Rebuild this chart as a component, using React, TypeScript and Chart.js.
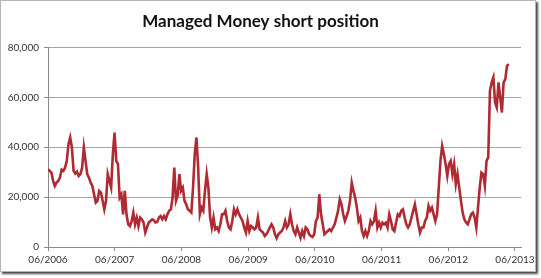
import React, { useEffect, useRef } from "react";
import { Chart, registerables } from "chart.js";

Chart.register(...registerables);

const title = "Managed Money short position";
const tickLabels = ["06/2006", "06/2007", "06/2008", "06/2009", "06/2010", "06/2011", "06/2012", "06/2013"];
const yTicks = [0, 20000, 40000, 60000, 80000];
// time span (years after 06/2006) covered by the sampled series
const seriesStartYears = 0;
const seriesEndYears = 6.906;
// Managed Money short position, thousands of contracts, sampled ~every 9-10 days
const shortThousands = [
  31.2, 30.5, 29.8, 26.5, 24.5, 25.8, 26.5, 27.8, 31, 30.5, 31.8, 34.5, 41.2, 43.9, 39.9, 30.5, 29.4, 30.2, 28.5, 29.2,
  31.8, 39.9, 34.5, 29.2, 27.8, 25.8, 24.5, 21.1, 17.8, 18.5, 22.5, 21.8, 18.5, 15.1, 18.5, 29.2, 26.5, 23.8, 37.2, 45.9,
  34.5, 33.2, 19.8, 21.1, 13.1, 22.5, 13.1, 9.1, 8.4, 10.4, 13.8, 9.1, 11.8, 8.4, 11.8, 11.1, 9.8, 5.8, 7.8, 9.8,
  10.4, 11.1, 10.7, 9.8, 10.0, 11.8, 12.4, 11.1, 12.4, 11.1, 13.1, 14.5, 15.1, 19.8, 31.8, 18.5, 20.5, 29.2, 22.5, 23.8,
  18.5, 17.1, 15.1, 14.5, 13.8, 23.8, 37.2, 43.9, 31.8, 13.1, 15.8, 14.5, 22.5, 29.2, 23.8, 11.8, 7.8, 11.8, 7.1, 7.8,
  6.4, 9.1, 13.1, 13.1, 14.5, 10.4, 7.8, 7.1, 10.4, 15.1, 13.1, 15.1, 13.1, 11.8, 10.4, 7.8, 5.8, 10.4, 6.4, 8.4,
  7.8, 7.1, 7.8, 11.8, 7.1, 6.4, 5.8, 4.4, 5.1, 6.4, 7.8, 9.1, 7.8, 5.1, 3.5, 5.1, 5.8, 6.4, 7.8, 10.4,
  7.8, 9.1, 13.1, 9.1, 6.4, 5.1, 7.8, 5.8, 3.7, 6.4, 4.4, 7.8, 7.1, 5.1, 4.4, 4.0, 5.1, 10.4, 11.8, 21.1,
  13.1, 9.1, 5.1, 5.8, 6.4, 7.1, 6.4, 7.8, 9.1, 11.8, 14.5, 19.1, 17.1, 13.1, 10.4, 12.4, 14.5, 18.5, 25.8, 22.5,
  19.8, 15.8, 10.4, 11.8, 6.4, 4.4, 6.4, 4.4, 6.4, 10.4, 9.1, 10.4, 14.5, 7.8, 9.8, 7.8, 9.8, 9.1, 9.8, 7.8,
  13.1, 10.4, 7.1, 6.4, 9.8, 13.1, 12.4, 14.5, 15.1, 11.8, 9.1, 7.8, 9.1, 11.8, 14.5, 17.1, 13.1, 9.1, 5.8, 7.8,
  7.8, 10.4, 11.8, 16.5, 14.5, 15.8, 13.1, 10.4, 13.1, 23.8, 34.5, 40.5, 37.2, 33.2, 28.5, 33.2, 34.5, 29.2, 33.2, 25.2,
  29.2, 23.8, 18.5, 13.8, 11.1, 9.8, 9.1, 11.1, 13.1, 13.8, 11.8, 7.8, 15.8, 23.8, 29.8, 29.2, 24.5, 34.5, 35.9, 62.6,
  66.0, 68.0, 57.9, 55.9, 66.0, 60.0, 53.9, 66.0, 67.3, 72.6, 73.3,
];

const tickFont = "10px Lato";
const tickColor = "#333";

// draws the x tick labels centred under each tick mark
const xLabelPlugin = {
  id: "xLabels",
  afterDraw(chart: any) {
    const xs = chart.scales.x;
    const ctx = chart.ctx;
    ctx.save();
    ctx.font = tickFont;
    ctx.fillStyle = tickColor;
    ctx.textAlign = "center";
    ctx.textBaseline = "middle";
    tickLabels.forEach((lbl, i) => {
      ctx.fillText(lbl, xs.getPixelForValue(i), xs.top + 4 + 3 + 6);
    });
    ctx.restore();
  },
};

export default function App() {
  const ref = useRef<HTMLCanvasElement | null>(null);

  useEffect(() => {
    document.body.style.margin = "0";
    const canvas = ref.current;
    if (!canvas) return;
    const n = shortThousands.length;
    const points = shortThousands.map((v, i) => ({
      x: seriesStartYears + ((seriesEndYears - seriesStartYears) * i) / (n - 1),
      y: v * 1000,
    }));
    const chart = new Chart(canvas, {
      type: "line",
      data: {
        datasets: [
          {
            label: title,
            data: points,
            borderColor: "#b02a33",
            borderWidth: 2.6,
            pointRadius: 0,
            tension: 0,
            fill: false,
          },
        ],
      },
      plugins: [xLabelPlugin],
      options: {
        animation: false,
        responsive: false,
        layout: { padding: { top: 9, right: 20, bottom: 9, left: 0 } },
        plugins: {
          legend: { display: false },
          tooltip: { enabled: false },
          title: {
            display: true,
            text: title,
            color: "#111",
            font: { family: "Lato", size: 17, weight: "bold" },
            padding: { top: 2, bottom: 16 },
          },
        },
        scales: {
          x: {
            type: "linear",
            min: 0,
            max: 7.09,
            grid: { drawOnChartArea: false, drawTicks: true, tickLength: 4, tickColor: "#8a8a8a" },
            border: { display: true, color: "#8a8a8a" },
            afterBuildTicks: (scale: any) => {
              scale.ticks = tickLabels.map((_, i) => ({ value: i }));
            },
            ticks: {
              color: "rgba(0,0,0,0)",
              font: { family: "Lato", size: 10 },
              padding: 3,
              maxRotation: 0,
              autoSkip: false,
              callback: (v: any) => tickLabels[Math.round(Number(v))] ?? "",
            },
          },
          y: {
            min: 0,
            max: 80000,
            afterFit: (scale: any) => {
              scale.width = 48;
            },
            afterBuildTicks: (scale: any) => {
              scale.ticks = yTicks.map((v) => ({ value: v }));
            },
            grid: { color: "#a6a6a6", lineWidth: 1, tickLength: 4, tickColor: "#8a8a8a" },
            border: { display: true, color: "#8a8a8a" },
            ticks: {
              color: tickColor,
              font: { family: "Lato", size: 10 },
              padding: 5,
              callback: (v: any) => Number(v).toLocaleString("en-US"),
            },
          },
        },
      },
    });
    return () => chart.destroy();
  }, []);

  return (
    <div style={{ position: "relative", width: 541, height: 278, background: "#fff", overflow: "hidden" }}>
      <div
        style={{
          position: "absolute",
          left: 0,
          top: 0,
          width: 534,
          height: 270,
          border: "1px solid #b5b5b5",
          boxShadow: "2px 2px 2px rgba(40,40,40,0.85)",
          background: "#fff",
        }}
      />
      <canvas ref={ref} width={541} height={278} style={{ position: "absolute", left: 0, top: 0 }} />
    </div>
  );
}
